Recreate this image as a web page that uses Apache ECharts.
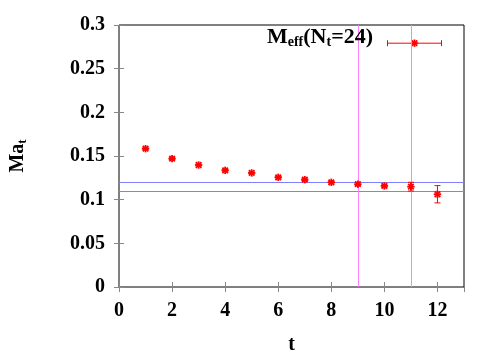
<!DOCTYPE html>
<html>
<head>
<meta charset="utf-8">
<script src="https://cdn.jsdelivr.net/npm/echarts@6/dist/echarts.min.js"></script>
<style>
  html, body { margin: 0; padding: 0; background: #fff; }
  #chart { width: 500px; height: 350px; }
</style>
</head>
<body>
<div id="chart"></div>
<script>
// effective mass vs t, N_t = 24
const tValues = [1, 2, 3, 4, 5, 6, 7, 8, 9, 10, 11, 12];
const meffValues = [0.1584, 0.147, 0.1397, 0.1336, 0.1306, 0.1256, 0.1229, 0.1199, 0.1177, 0.1157, 0.1149, 0.1062];
const meffErrors = [0.001, 0.001, 0.001, 0.001, 0.001, 0.001, 0.001, 0.001, 0.0015, 0.0015, 0.005, 0.0099];
const fitBand = [0.1131, 0.1188];
const fitRange = [9, 11];

const FONT = '"Liberation Serif", "DejaVu Serif", serif';
const RED = '#ff0000';

const chart = echarts.init(document.getElementById('chart'));

function starShapes(cx, cy, r, width) {
  const d = r * 0.75;
  const style = { stroke: RED, lineWidth: width };
  return [
    { type: 'line', shape: { x1: cx - r, y1: cy, x2: cx + r, y2: cy }, style },
    { type: 'line', shape: { x1: cx, y1: cy - r, x2: cx, y2: cy + r }, style },
    { type: 'line', shape: { x1: cx - d, y1: cy - d, x2: cx + d, y2: cy + d }, style },
    { type: 'line', shape: { x1: cx - d, y1: cy + d, x2: cx + d, y2: cy - d }, style },
  ]
}

function renderPoint(params, api) {
  const x = api.value(0);
  const y = api.value(1);
  const e = api.value(2);
  const c = api.coord([x, y]);
  const top = api.coord([x, y + e]);
  const bot = api.coord([x, y - e]);
  const cap = 3;
  const style = { stroke: RED, lineWidth: 1 };
  return {
    type: 'group',
    children: [
      { type: 'line', shape: { x1: c[0], y1: top[1], x2: c[0], y2: bot[1] }, style },
      { type: 'line', shape: { x1: c[0] - cap, y1: top[1], x2: c[0] + cap, y2: top[1] }, style },
      { type: 'line', shape: { x1: c[0] - cap, y1: bot[1], x2: c[0] + cap, y2: bot[1] }, style },
      ...starShapes(c[0], c[1], 3.7, 1.8),
    ],
  }
}

const tickStyle = { inside: true, length: 5, lineStyle: { color: '#888' } };
const labelStyle = { color: '#000', fontFamily: FONT, fontWeight: 'bold', fontSize: 20 };

chart.setOption({
  animation: false,
  backgroundColor: '#fff',
  grid: {
    left: 119, right: 36, top: 25, bottom: 63,
    outerBoundsMode: 'none', containLabel: false,
    show: true, borderColor: '#000', borderWidth: 1,
  },
  xAxis: [
    {
      type: 'value', min: 0, max: 13, interval: 2,
      axisLine: { show: false }, splitLine: { show: false },
      axisTick: tickStyle,
      axisLabel: Object.assign({ margin: 14, showMaxLabel: false }, labelStyle),
      name: 't', nameLocation: 'middle', nameGap: 48,
      nameTextStyle: { color: '#000', fontFamily: FONT, fontWeight: 'bold', fontSize: 20 },
    },
    {
      type: 'value', position: 'top', min: 0, max: 13, interval: 2,
      axisLine: { show: false }, splitLine: { show: false },
      axisTick: tickStyle, axisLabel: { show: false },
    },
  ],
  yAxis: [
    {
      type: 'value', min: 0, max: 0.3, interval: 0.05,
      axisLine: { show: false }, splitLine: { show: false },
      axisTick: tickStyle,
      axisLabel: Object.assign({ margin: 14 }, labelStyle),
      name: '{m|Ma}{s|t}', nameLocation: 'middle', nameGap: 90, nameRotate: 90,
      nameTextStyle: {
        rich: {
          m: { color: '#000', fontFamily: FONT, fontWeight: 'bold', fontSize: 20 },
          s: { color: '#000', fontFamily: FONT, fontWeight: 'bold', fontSize: 13, padding: [10, 0, 0, 0] },
        },
      },
    },
    {
      type: 'value', position: 'right', min: 0, max: 0.3, interval: 0.05,
      axisLine: { show: false }, splitLine: { show: false },
      axisTick: tickStyle, axisLabel: { show: false },
    },
  ],
  series: [
    {
      type: 'custom',
      renderItem: renderPoint,
      data: tValues.map((t, i) => [t, meffValues[i], meffErrors[i]]),
      z: 5,
      markLine: {
        silent: true,
        symbol: 'none',
        label: { show: false },
        data: [
          { yAxis: fitBand[0], lineStyle: { color: '#8080ff', width: 1, type: 'solid' } },
          { yAxis: fitBand[1], lineStyle: { color: '#8080ff', width: 1, type: 'solid' } },
          { xAxis: fitRange[0], lineStyle: { color: '#ff80ff', width: 1, type: 'solid' } },
          { xAxis: fitRange[1], lineStyle: { color: '#ff80ff', width: 1, type: 'solid' } },
        ],
      },
    },
  ],
  graphic: [
    {
      type: 'text', right: 127, top: 26, z: 10,
      style: {
        text: '{b|M}{s|eff}{b|(N}{s|t}{b|=24)}',
        rich: {
          b: { fill: '#000', fontFamily: FONT, fontWeight: 'bold', fontSize: 22 },
          s: { fill: '#000', fontFamily: FONT, fontWeight: 'bold', fontSize: 14, padding: [11, 0, 0, 0] },
        },
      },
    },
    {
      type: 'group', left: 385, top: 37, z: 10,
      children: [
        { type: 'line', shape: { x1: 0, y1: 3, x2: 54, y2: 3 }, style: { stroke: RED, lineWidth: 1 } },
        { type: 'line', shape: { x1: 0, y1: 0, x2: 0, y2: 6 }, style: { stroke: RED, lineWidth: 1 } },
        { type: 'line', shape: { x1: 54, y1: 0, x2: 54, y2: 6 }, style: { stroke: RED, lineWidth: 1 } },
        ...starShapes(27, 3, 3.7, 1.8),
      ],
    },
  ],
});
</script>
</body>
</html>
